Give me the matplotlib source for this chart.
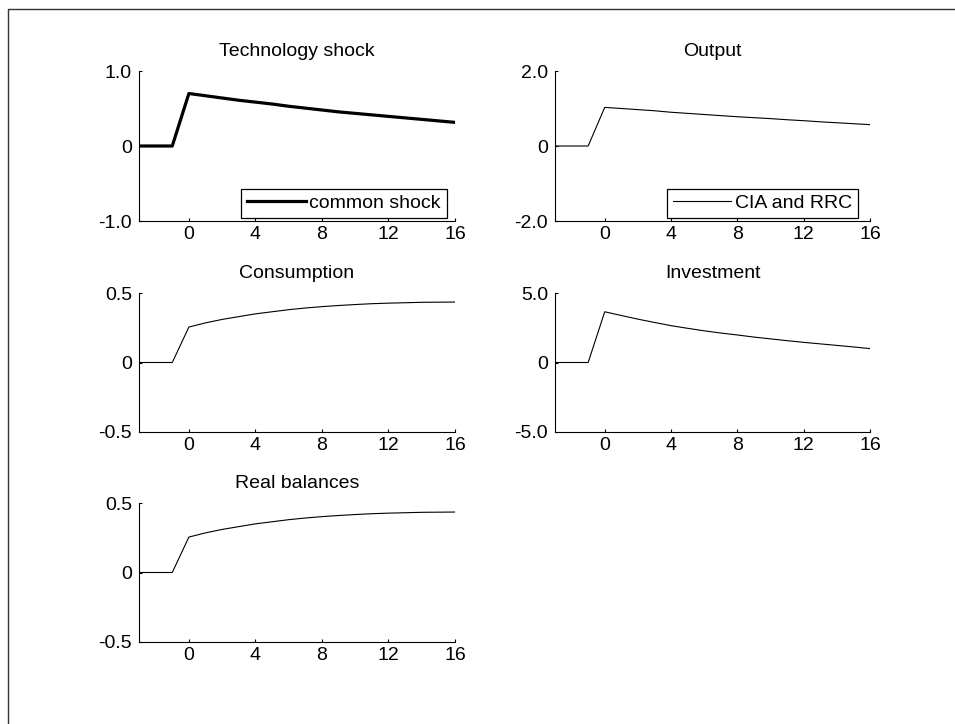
import numpy as np
import matplotlib.pyplot as plt
from matplotlib.lines import Line2D

plt.rcParams['font.family'] = ['Liberation Sans', 'DejaVu Sans']

periods = np.arange(-3, 17)
tech = [0, 0, 0, 0.70, 0.67, 0.64, 0.61, 0.585, 0.56, 0.53, 0.505, 0.48,
        0.455, 0.435, 0.415, 0.395, 0.375, 0.355, 0.335, 0.315]
output = [0, 0, 0, 1.03, 1.0, 0.97, 0.94, 0.90, 0.87, 0.84, 0.81, 0.78,
          0.755, 0.73, 0.70, 0.675, 0.645, 0.62, 0.595, 0.57]
consumption = [0, 0, 0, 0.255, 0.285, 0.31, 0.33, 0.35, 0.365, 0.38, 0.392, 0.402,
               0.41, 0.417, 0.423, 0.427, 0.43, 0.433, 0.434, 0.435]
investment = [0, 0, 0, 3.65, 3.38, 3.12, 2.88, 2.65, 2.46, 2.28, 2.12, 1.98,
              1.83, 1.70, 1.57, 1.45, 1.34, 1.23, 1.12, 1.0]
real_bal = [0, 0, 0, 0.255, 0.285, 0.31, 0.33, 0.35, 0.365, 0.38, 0.392, 0.402,
            0.41, 0.417, 0.423, 0.427, 0.43, 0.433, 0.434, 0.435]

xticks = [0, 4, 8, 12, 16]
fs = 14

fig = plt.figure(figsize=(9.55, 7.24), dpi=100)

W, H = 955, 724
def pos(left, top, right, bottom):
    return [left / W, 1 - bottom / H, (right - left) / W, (bottom - top) / H]

panels = [
    ("Technology shock", tech, 1.0, ["-1.0", "0", "1.0"], pos(139, 71, 455, 221), 2.3, "common shock"),
    ("Output", output, 2.0, ["-2.0", "0", "2.0"], pos(555, 71, 870, 221), 0.8, "CIA and RRC"),
    ("Consumption", consumption, 0.5, ["-0.5", "0", "0.5"], pos(139, 293, 455, 432), 0.8, None),
    ("Investment", investment, 5.0, ["-5.0", "0", "5.0"], pos(555, 293, 870, 432), 0.8, None),
    ("Real balances", real_bal, 0.5, ["-0.5", "0", "0.5"], pos(139, 503, 455, 642), 0.8, None),
]

for title, vals, lim, ylabels, rect, lw, lab in panels:
    ax = fig.add_axes(rect)
    ax.plot(periods, vals, color='black', lw=lw, label=lab)
    ax.set_xlim(-3, 16)
    ax.set_ylim(-lim, lim)
    ax.set_xticks(xticks)
    ax.set_yticks([-lim, 0, lim])
    ax.set_yticklabels(ylabels)
    ax.spines['top'].set_visible(False)
    ax.spines['right'].set_visible(False)
    for s in ('left', 'bottom'):
        ax.spines[s].set_linewidth(0.8)
    ax.tick_params(axis='both', direction='in', length=2.5, width=0.8, labelsize=fs)
    ax.tick_params(axis='x', pad=3.5)
    ax.tick_params(axis='y', pad=5)
    ax.set_title(title, fontsize=fs, pad=10.5)
    if lab is not None:
        anchor = (0.974, 0.02) if title == "Technology shock" else (0.961, 0.02)
        leg = ax.legend(loc='lower right', bbox_to_anchor=anchor, fancybox=False,
                        edgecolor='black', framealpha=1, handlelength=3.0,
                        handletextpad=0.2, borderpad=0.3, borderaxespad=0,
                        fontsize=fs)
        leg.get_frame().set_linewidth(0.9)

# border of the figure window (left and top edges)
fig.add_artist(Line2D([8 / W, 8 / W, 1], [0, 1 - 9 / H, 1 - 9 / H],
                      transform=fig.transFigure, color='#333333', lw=1))

fig.savefig('out.png', dpi=100)
